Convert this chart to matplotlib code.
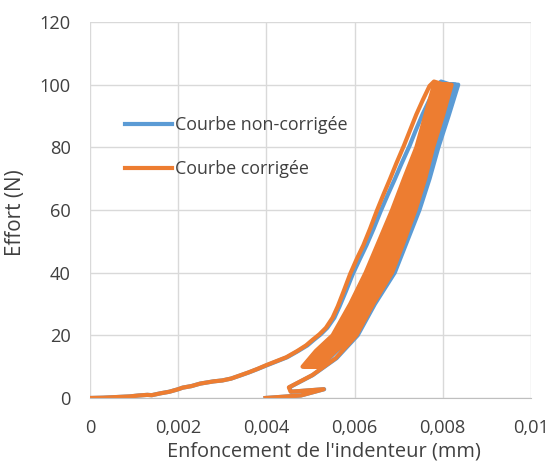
import matplotlib
matplotlib.use("Agg")
import matplotlib.pyplot as plt
from matplotlib.ticker import FuncFormatter

# displacement in micrometres (x 1e-3 mm), force in N
virgin_x = [0, 0.3, 0.6, 0.9, 1.1, 1.3, 1.4, 1.6, 1.8, 2.0, 2.1, 2.3, 2.5, 2.8, 3.0, 3.2,
            3.4, 3.6, 3.8, 4.0, 4.2, 4.45, 4.7, 4.9, 5.05, 5.2, 5.35, 5.5, 5.62, 5.75, 5.9,
            6.05, 6.2, 6.35, 6.5, 6.65, 6.8, 6.95, 7.12, 7.25, 7.4, 7.55, 7.7, 7.8]
virgin_f = [0, 0.1, 0.3, 0.5, 0.8, 1.0, 0.9, 1.5, 2.0, 2.8, 3.3, 3.8, 4.6, 5.3, 5.6, 6.2,
            7.2, 8.2, 9.3, 10.5, 11.6, 13.0, 15.0, 16.8, 18.6, 20.3, 22.4, 25.6, 29.3, 34.0, 39.6,
            44.4, 48.8, 54.0, 59.6, 64.8, 69.8, 75.0, 80.6, 85.2, 90.5, 95.2, 99.6, 101]
virgin_x_raw = [0, 0.3, 0.6, 0.9, 1.1, 1.3, 1.4, 1.6, 1.8, 2.0, 2.1, 2.3, 2.5, 2.8, 3.0, 3.2,
                3.41, 3.61, 3.81, 4.02, 4.22, 4.47, 4.72, 4.93, 5.08, 5.23, 5.38, 5.54, 5.66, 5.80, 5.96,
                6.12, 6.27, 6.43, 6.59, 6.75, 6.91, 7.07, 7.25, 7.38, 7.54, 7.70, 7.85, 7.96]

f_up = [10, 15, 20, 30, 40, 50, 60, 70, 80, 90, 100]
f_down = [100, 90, 80, 70, 60, 50, 40, 30, 20, 15, 10]

load1_x = [4.82, 5.12, 5.50, 5.90, 6.25, 6.55, 6.85, 7.12, 7.40, 7.60, 7.80]
load2_x = [4.88, 5.20, 5.58, 5.97, 6.34, 6.63, 6.93, 7.19, 7.45, 7.66, 7.86]
load3_x = [4.95, 5.27, 5.65, 6.05, 6.42, 6.71, 7.00, 7.26, 7.51, 7.71, 7.91]
load4_x = [5.01, 5.35, 5.73, 6.12, 6.51, 6.79, 7.08, 7.33, 7.56, 7.77, 7.97]
load1_x_raw = [4.84, 5.14, 5.53, 5.94, 6.31, 6.62, 6.94, 7.22, 7.52, 7.73, 7.95]
load2_x_raw = [4.90, 5.22, 5.61, 6.01, 6.40, 6.70, 7.02, 7.29, 7.57, 7.79, 8.01]
load3_x_raw = [4.97, 5.29, 5.68, 6.09, 6.48, 6.78, 7.09, 7.36, 7.63, 7.84, 8.06]
load4_x_raw = [5.03, 5.37, 5.76, 6.16, 6.57, 6.86, 7.17, 7.43, 7.68, 7.90, 8.12]

unload1_x = [8.03, 7.83, 7.62, 7.39, 7.15, 6.88, 6.59, 6.20, 5.81, 5.42, 5.08]
unload2_x = [8.09, 7.89, 7.67, 7.46, 7.23, 6.96, 6.68, 6.27, 5.89, 5.50, 5.14]
unload3_x = [8.14, 7.94, 7.73, 7.53, 7.30, 7.04, 6.76, 6.35, 5.96, 5.57, 5.21]
unload4_x = [8.00, 7.80, 7.59, 7.36, 7.12, 6.84, 6.55, 6.16, 5.77, 5.39, 5.05]
unload1_x_raw = [8.18, 7.96, 7.74, 7.49, 7.24, 6.95, 6.65, 6.24, 5.84, 5.44, 5.10]
unload2_x_raw = [8.24, 8.02, 7.79, 7.56, 7.32, 7.03, 6.74, 6.31, 5.92, 5.52, 5.16]
unload3_x_raw = [8.29, 8.07, 7.85, 7.63, 7.39, 7.11, 6.82, 6.39, 5.99, 5.59, 5.23]
unload4_x_raw = [8.15, 7.93, 7.71, 7.46, 7.21, 6.91, 6.61, 6.20, 5.80, 5.41, 5.07]

final_f = [100, 90, 80, 70, 60, 50, 40, 30, 20, 12.7, 7.3, 3.4, 2.0, 2.8, 0.8, 0.0]
final_x = [8.20, 8.00, 7.78, 7.60, 7.38, 7.12, 6.85, 6.42, 6.04, 5.57, 5.04, 4.51, 4.55, 5.30, 4.78, 3.98]
final_x_raw = [8.35, 8.13, 7.90, 7.70, 7.47, 7.19, 6.91, 6.46, 6.07, 5.59, 5.05, 4.52, 4.56, 5.31, 4.78, 3.98]


def build(parts):
    xs, fs = [], []
    for x, f in parts:
        xs += [v / 1000 for v in x]
        fs += list(f)
    return xs, fs


raw_x, raw_f = build([(virgin_x_raw, virgin_f), (unload1_x_raw, f_down), (load1_x_raw, f_up),
                      (unload2_x_raw, f_down), (load2_x_raw, f_up), (unload3_x_raw, f_down),
                      (load3_x_raw, f_up), (unload4_x_raw, f_down), (load4_x_raw, f_up),
                      (final_x_raw, final_f)])
cor_x, cor_f = build([(virgin_x, virgin_f), (unload1_x, f_down), (load1_x, f_up),
                      (unload2_x, f_down), (load2_x, f_up), (unload3_x, f_down),
                      (load3_x, f_up), (unload4_x, f_down), (load4_x, f_up),
                      (final_x, final_f)])

plt.rcParams['font.family'] = ['Open Sans', 'DejaVu Sans']
text_col = '#404040'
W, H = 548, 463

fig = plt.figure(figsize=(W / 100, H / 100), dpi=100)
ax = fig.add_axes([90 / W, 1 - 398 / H, 441 / W, 376 / H])
renderer = fig.canvas.get_renderer()


def size_for(s, target_px, **kw):
    # font size giving the text the same length as in the reference
    t = fig.text(0, 0, s, fontsize=10, **kw)
    bb = t.get_window_extent(renderer)
    t.remove()
    return 10 * target_px / max(bb.width, bb.height)


tick_fs = size_for('0,002', 46.7)
xlab_fs = size_for("Enfoncement de l'indenteur (mm)", 313)
ylab_fs = size_for('Effort (N)', 87)
leg_fs = size_for('Courbe non-corrigée', 172)

ax.plot(raw_x, raw_f, color='#5B9BD5', lw=3, solid_joinstyle='round', label='Courbe non-corrigée')
ax.plot(cor_x, cor_f, color='#ED7D31', lw=3, solid_joinstyle='round', label='Courbe corrigée')

ax.set_xlim(0, 0.01)
ax.set_ylim(0, 120)
ax.set_xticks([0, 0.002, 0.004, 0.006, 0.008, 0.01])
ax.set_yticks(range(0, 121, 20))
ax.xaxis.set_major_formatter(FuncFormatter(lambda v, p: ('%g' % round(v, 4)).replace('.', ',')))
ax.grid(True, color='#d9d9d9', lw=1)
ax.set_axisbelow(True)
for s in ['top', 'right', 'left']:
    ax.spines[s].set_visible(False)
ax.spines['bottom'].set_color('#bfbfbf')
ax.tick_params(length=0, labelsize=tick_fs, colors=text_col)
ax.tick_params(axis='x', pad=15)
ax.tick_params(axis='y', pad=13.9)

ax.set_xlabel("Enfoncement de l'indenteur (mm)", fontsize=xlab_fs, color=text_col, va='baseline')
ax.xaxis.set_label_coords((323.5 - 90) / 441, (398 - 456.5) / 376)
ax.set_ylabel('Effort (N)', fontsize=ylab_fs, color=text_col, va='center')
ax.yaxis.set_label_coords((15.5 - 90) / 441, (398 - 213) / 376)

em = leg_fs * 100 / 72
ax.legend(loc='upper left', bbox_to_anchor=(125 / W, 1 - 116 / H), bbox_transform=fig.transFigure,
          frameon=False, fontsize=leg_fs, borderpad=0, borderaxespad=0,
          handlelength=46.7 / em, handletextpad=3.3 / em, labelspacing=1.45, labelcolor=text_col)

fig.savefig('out.png', dpi=100)
